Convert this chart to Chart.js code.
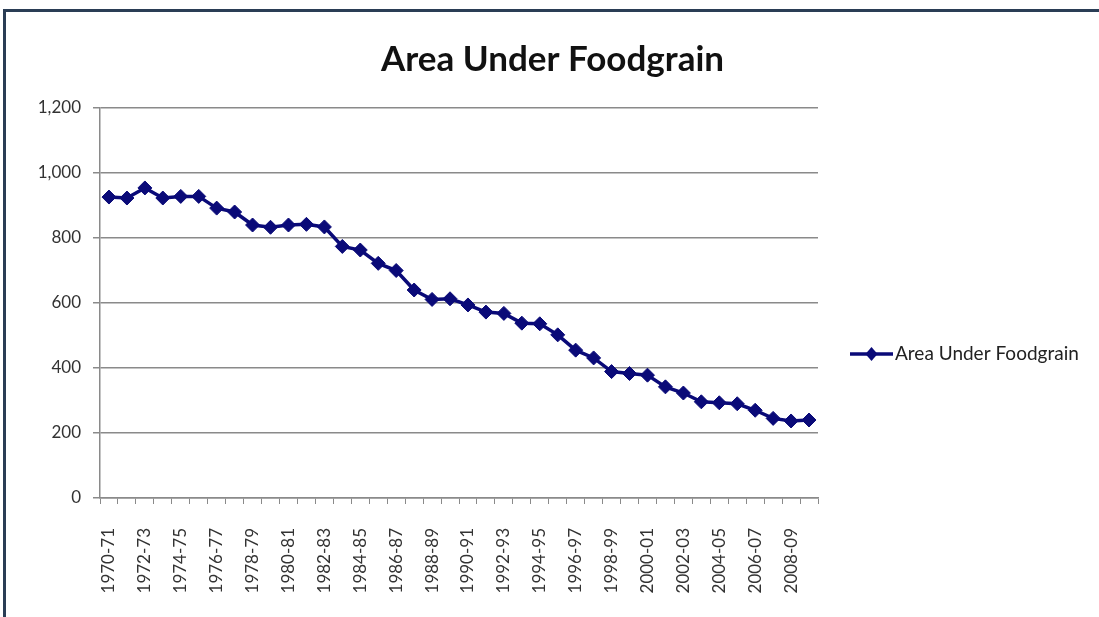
<!DOCTYPE html>
<html>
<head>
<meta charset="utf-8">
<script src="https://cdn.jsdelivr.net/npm/chart.js@4"></script>
<style>
  html, body { margin: 0; padding: 0; background: #fff; }
  #frame {
    position: absolute; left: 3px; top: 9px;
    width: 1096px; height: 608px;
    border-top: 3px solid #2a3d55; border-left: 3px solid #2a3d55;
  }
  #wrap { position: absolute; left: 0; top: 0; width: 1093px; height: 605px; }
</style>
</head>
<body>
<div id="frame"><div id="wrap"><canvas id="chart"></canvas></div></div>
<script>
// Years on the x axis
const years = [
  '1970-71', '1971-72', '1972-73', '1973-74', '1974-75', '1975-76', '1976-77', '1977-78',
  '1978-79', '1979-80', '1980-81', '1981-82', '1982-83', '1983-84', '1984-85', '1985-86',
  '1986-87', '1987-88', '1988-89', '1989-90', '1990-91', '1991-92', '1992-93', '1993-94',
  '1994-95', '1995-96', '1996-97', '1997-98', '1998-99', '1999-00', '2000-01', '2001-02',
  '2002-03', '2003-04', '2004-05', '2005-06', '2006-07', '2007-08', '2008-09', '2009-10'
];

// Area under foodgrain
const areaUnderFoodgrain = [
  926, 923, 954, 923, 928, 928, 892, 880, 840, 833,
  840, 842, 834, 774, 763, 722, 700, 640, 611, 613,
  594, 572, 568, 538, 536, 502, 455, 431, 389, 383,
  378, 342, 323, 296, 293, 290, 270, 245, 237, 240
];

const yTicks = [0, 200, 400, 600, 800, 1000, 1200];

const seriesName = 'Area Under Foodgrain';
const navy = '#0a0a78';

// Excel style legend on the right: reserves a layout box, then draws a line with a diamond
const sideLegend = {
  id: 'sideLegend',
  beforeInit(chart) {
    Chart.layouts.addBox(chart, {
      position: 'right',
      weight: 1000,
      fullSize: false,
      options: {},
      width: 0, height: 0, left: 0, top: 0, right: 0, bottom: 0,
      isHorizontal() { return false; },
      update(maxWidth, maxHeight) {
        this.width = 281;
        this.height = maxHeight;
      },
      draw() {}
    });
  },
  afterDraw(chart) {
    const ctx = chart.ctx;
    const x0 = chart.chartArea.right + 32;
    const y = (chart.chartArea.top + chart.chartArea.bottom) / 2 + 51;
    ctx.save();
    ctx.strokeStyle = navy;
    ctx.lineWidth = 3.5;
    ctx.beginPath();
    ctx.moveTo(x0, y);
    ctx.lineTo(x0 + 43, y);
    ctx.stroke();
    ctx.fillStyle = navy;
    ctx.beginPath();
    const cx = x0 + 21.5;
    ctx.moveTo(cx, y - 7);
    ctx.lineTo(cx + 6, y);
    ctx.lineTo(cx, y + 7);
    ctx.lineTo(cx - 6, y);
    ctx.closePath();
    ctx.fill();
    ctx.fillStyle = '#222';
    ctx.font = '19px Lato';
    ctx.textBaseline = 'middle';
    ctx.fillText(seriesName, x0 + 45, y);
    ctx.restore();
  }
};

const ctx = document.getElementById('chart');

window.foodChart = new Chart(ctx, {
  type: 'line',
  data: {
    labels: years,
    datasets: [{
      label: seriesName,
      data: areaUnderFoodgrain,
      borderColor: navy,
      backgroundColor: navy,
      borderWidth: 3.5,
      pointStyle: 'rectRot',
      pointRadius: 7,
      pointBorderWidth: 1,
      tension: 0
    }]
  },
  options: {
    animation: false,
    responsive: true,
    maintainAspectRatio: false,
    layout: {
      padding: { left: 0, right: 0, top: 0, bottom: 0 }
    },
    plugins: {
      legend: { display: false },
      tooltip: { enabled: false },
      title: {
        display: true,
        text: seriesName,
        color: '#111',
        font: { family: 'Lato', size: 35, weight: 'bold' },
        padding: { top: 27, bottom: 27 }
      }
    },
    scales: {
      x: {
        offset: true,
        afterFit(scale) { scale.height = 119; },
        grid: {
          offset: true,
          drawOnChartArea: false,
          drawTicks: true,
          tickLength: 6,
          tickColor: '#8a8a8a'
        },
        border: { color: '#8a8a8a', width: 1.5 },
        ticks: {
          autoSkip: false,
          maxRotation: 90,
          minRotation: 90,
          padding: 24,
          color: '#333',
          font: { family: 'Lato', size: 17 },
          callback: function (value, index) {
            return index % 2 === 0 ? this.getLabelForValue(value) : '';
          }
        }
      },
      y: {
        min: yTicks[0],
        max: yTicks[yTicks.length - 1],
        afterFit(scale) { scale.width = 94; },
        afterBuildTicks(scale) { scale.ticks = yTicks.map(v => ({ value: v })); },
        grid: {
          color: '#8a8a8a',
          lineWidth: 1.5,
          tickLength: 7
        },
        border: { color: '#8a8a8a', width: 1.5 },
        ticks: {
          padding: 12,
          color: '#333',
          font: { family: 'Lato', size: 17 },
          callback: v => v.toLocaleString('en-US')
        }
      }
    }
  },
  plugins: [sideLegend]
});
</script>
</body>
</html>
